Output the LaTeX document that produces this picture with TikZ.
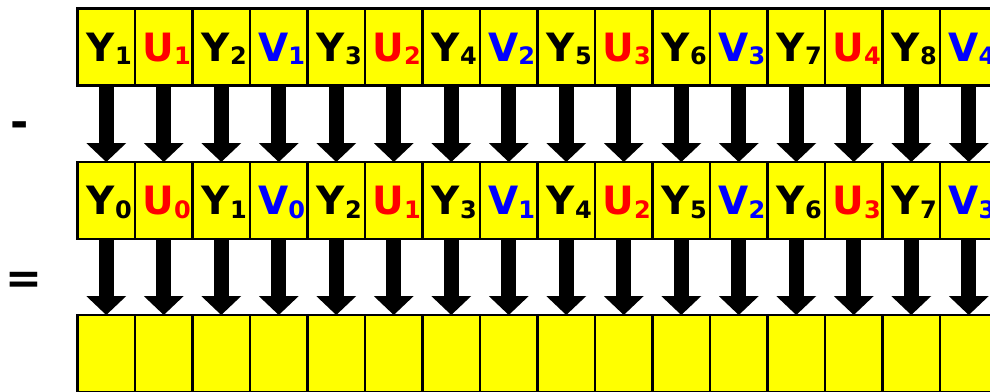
\documentclass[tikz,border=0pt]{standalone}
\usepackage{fontspec}
\setmainfont{DejaVu Sans}
\usetikzlibrary{arrows.meta}

\definecolor{cellyellow}{RGB}{255,255,0}
\definecolor{chromaU}{RGB}{255,0,0}
\definecolor{chromaV}{RGB}{0,0,255}

% one sample: colour, letter, index
\newcommand{\sampl}[3]{\hspace*{6pt}\textcolor{#1}{\bfseries\fontsize{39}{39}\selectfont #2\raisebox{-3.5pt}{\fontsize{24}{24}\selectfont #3}}}

\begin{document}
\begin{tikzpicture}[
    x=1pt, y=1pt,
    cell/.style={draw, line width=2.5pt, fill=cellyellow, minimum width=57.5pt,
      minimum height=77pt, inner sep=0pt, outer sep=0pt, text height=28pt, text depth=0pt},
    fatarrow/.style={line width=15pt, -{Triangle[length=19pt,width=40pt,line width=0pt]}},
    sign/.style={font=\bfseries\fontsize{44}{44}\selectfont, anchor=base}
  ]
  \useasboundingbox (0,0) rectangle (990,-391);
  \clip (0,0) rectangle (990,-391);

  % row before subtraction
  \foreach \col/\ltr/\idx [count=\i] in {black/Y/1, chromaU/U/1, black/Y/2, chromaV/V/1,
      black/Y/3, chromaU/U/2, black/Y/4, chromaV/V/2, black/Y/5, chromaU/U/3, black/Y/6,
      chromaV/V/3, black/Y/7, chromaU/U/4, black/Y/8, chromaV/V/4}
    \node[cell] (top-\i) at (77.5+57.5*\i-28.75, -47) {\sampl{\col}{\ltr}{\idx}};

  % row that gets subtracted
  \foreach \col/\ltr/\idx [count=\i] in {black/Y/0, chromaU/U/0, black/Y/1, chromaV/V/0,
      black/Y/2, chromaU/U/1, black/Y/3, chromaV/V/1, black/Y/4, chromaU/U/2, black/Y/5,
      chromaV/V/2, black/Y/6, chromaU/U/3, black/Y/7, chromaV/V/3}
    \node[cell] (mid-\i) at (77.5+57.5*\i-28.75, -200.5) {\sampl{\col}{\ltr}{\idx}};

  % result row
  \foreach \i in {1,...,16}
    \node[cell] (bot-\i) at (77.5+57.5*\i-28.75, -353.5) {};

  \foreach \i in {1,...,16} {
    \draw[fatarrow] (top-\i.south) -- (mid-\i.north);
    \draw[fatarrow] (mid-\i.south) -- (bot-\i.north);
  }

  \node[sign] (minus) at (20,-137) {-};
  \node[sign] (equals) at (23.5,-293.5) {=};
\end{tikzpicture}
\end{document}
